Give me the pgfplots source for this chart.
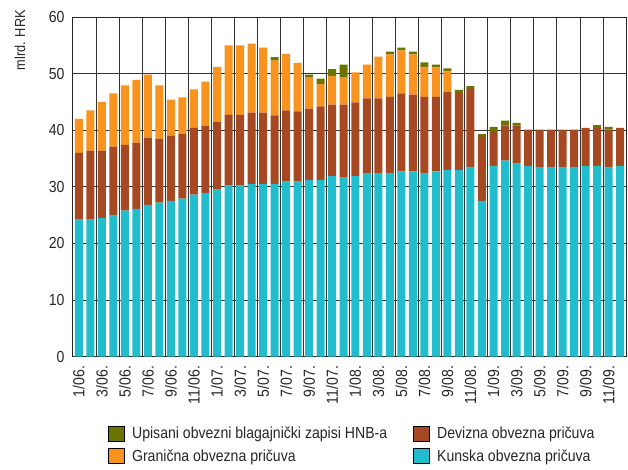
\documentclass[border=0pt]{standalone}
\usepackage{fontspec}
\setmainfont{Liberation Sans}[FakeStretch=0.88]
\usepackage{pgfplots}
\usepackage{pgfplotstable}
\pgfplotsset{compat=1.18}
\definecolor{cKun}{RGB}{33,189,204}
\definecolor{cDev}{RGB}{166,72,33}
\definecolor{cGra}{RGB}{247,147,30}
\definecolor{cUpi}{RGB}{107,116,0}
\pgfplotstableread{
x C D G U
0 24.2 11.8 6.0 0
1 24.2 12.2 7.1 0
2 24.5 11.9 8.6 0
3 24.9 12.2 9.4 0
4 25.8 11.6 10.5 0
5 26.1 11.7 11.1 0
6 26.8 11.9 11.1 0
7 27.2 11.3 9.4 0
8 27.5 11.5 6.4 0
9 27.9 11.5 6.4 0
10 28.6 11.8 6.8 0
11 28.9 11.9 7.8 0
12 29.5 12.0 9.7 0
13 30.2 12.5 12.3 0
14 30.2 12.5 12.3 0
15 30.5 12.6 12.2 0
16 30.5 12.6 11.5 0
17 30.5 12.1 9.7 0.6
18 30.9 12.6 10.0 0
19 30.9 12.4 8.6 0
20 31.2 12.6 5.5 0.5
21 31.2 13.0 4.0 0.9
22 31.9 12.6 5.1 1.2
23 31.6 12.9 4.8 2.3
24 31.9 13.0 5.3 0
25 32.3 13.3 6.0 0
26 32.3 13.3 7.4 0
27 32.3 13.6 7.5 0.5
28 32.7 13.8 7.6 0.5
29 32.7 13.6 7.1 0.5
30 32.3 13.6 5.2 0.9
31 32.7 13.2 5.2 0.5
32 33.0 13.8 3.6 0.5
33 33.0 13.6 0 0.5
34 33.4 13.9 0 0.5
35 27.5 11.3 0 0.5
36 33.7 6.0 0 0.9
37 34.6 6.2 0 0.9
38 34.1 6.7 0 0.5
39 33.7 6.4 0 0
40 33.4 6.7 0 0
41 33.4 6.7 0 0
42 33.4 6.7 0 0
43 33.4 6.7 0 0
44 33.7 6.7 0 0
45 33.7 6.7 0 0.5
46 33.4 6.7 0 0.5
47 33.7 6.7 0 0
}\data
\begin{document}
\begin{tikzpicture}
\useasboundingbox (-73pt,-112.5pt) rectangle (555pt,356.5pt);
\begin{axis}[
  scale only axis, width=553pt, height=339.5pt,
  xmin=-0.5, xmax=47.5, ymin=0, ymax=60,
  ybar stacked, bar width=8pt,
  ytick={0,10,...,60},
  xtick={0,2,...,46},
  xticklabels={1/06.,3/06.,5/06.,7/06.,9/06.,11/06.,1/07.,3/07.,5/07.,7/07.,9/07.,11/07.,1/08.,3/08.,5/08.,7/08.,9/08.,11/08.,1/09.,3/09.,5/09.,7/09.,9/09.,11/09.},
  minor xtick={1.5,3.5,...,45.5},
  xminorgrids=true, ymajorgrids=true, xmajorgrids=false,
  major tick length=0pt, minor tick length=0pt,
  grid style={black!80, line width=0.8pt},
  minor grid style={black!80, line width=0.8pt},
  axis line style={black!85, line width=1pt},
  /pgf/number format/assume math mode=true,
  tick label style={font=\fontsize{16}{19}\selectfont, black!85},
  x tick label style={rotate=90, anchor=east},
  xticklabel shift=6pt,
  y tick label style={xshift=-5pt},
  ylabel={mlrd. HRK},
  ylabel style={at={(axis description cs:-0.0958,0.932)}, anchor=center, font=\fontsize{14.5}{17}\selectfont, black!85},
  legend columns=2,
  legend cell align=left,
  legend image code/.code={\fill[#1] (0pt,-7.5pt) rectangle (15.5pt,7.5pt);},
  legend style={draw=none, fill=none, inner sep=0pt,
    at={(axis description cs:0.0633,-0.2018)}, anchor=north west,
    font=\fontsize{16}{19}\selectfont, text=black!85,
    /tikz/every odd column/.append style={column sep=6pt},
    /tikz/every even column/.append style={column sep=24pt},
    row sep=5pt},
]
\addplot[fill=cKun, draw=none, forget plot] table[x=x,y=C]{\data};
\addplot[fill=cDev, draw=none, forget plot] table[x=x,y=D]{\data};
\addplot[fill=cGra, draw=none, forget plot] table[x=x,y=G]{\data};
\addplot[fill=cUpi, draw=none, forget plot] table[x=x,y=U]{\data};
\addlegendimage{fill=cUpi}
\addlegendentry{Upisani obvezni blagajnički zapisi HNB-a}
\addlegendimage{fill=cDev}
\addlegendentry{Devizna obvezna pričuva}
\addlegendimage{fill=cGra}
\addlegendentry{Granična obvezna pričuva}
\addlegendimage{fill=cKun}
\addlegendentry{Kunska obvezna pričuva}
\end{axis}
\end{tikzpicture}
\end{document}
